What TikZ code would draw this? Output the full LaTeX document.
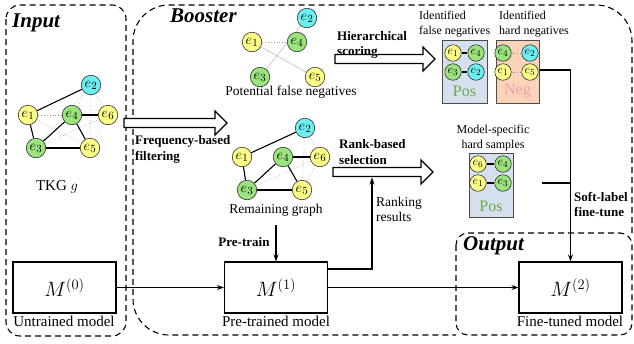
\documentclass[tikz,border=0pt]{standalone}
\usepackage{fontspec}
\setmainfont{Liberation Serif}
\usetikzlibrary{arrows.meta,calc,backgrounds}
\definecolor{ey}{HTML}{FFFF88}
\definecolor{eg}{HTML}{9BE37C}
\definecolor{ec}{HTML}{6AF0F0}
\definecolor{posfill}{HTML}{D6DFEE}
\definecolor{negfill}{HTML}{FBD3B8}
\definecolor{posgreen}{HTML}{6AAA4A}
\definecolor{negpink}{HTML}{F4A0B4}
\newcommand\hollowarrow[3]{%
  \draw[hollow] (#1,#3-4.5) -- (#2-12,#3-4.5) -- (#2-12,#3-12) -- (#2,#3) -- (#2-12,#3+12) -- (#2-12,#3+4.5) -- (#1,#3+4.5) -- cycle;}
\begin{document}
\begin{tikzpicture}[x=1pt,y=-1pt,
  ent/.style={circle,draw=black!80,line width=0.6pt,inner sep=0pt,minimum size=19.5pt,font=\fontsize{15}{15}\selectfont},
  sent/.style={ent,minimum size=16.5pt,font=\fontsize{13}{13}\selectfont},
  Y/.style={fill=ey}, G/.style={fill=eg}, C/.style={fill=ec},
  solidedge/.style={line width=1.1pt},
  thickedge/.style={line width=1.9pt},
  dotedge/.style={gray!45,dotted,line width=0.8pt},
  dkdotedge/.style={gray!80,dotted,line width=0.9pt},
  thinedge/.style={gray!50,line width=0.6pt},
  region/.style={dash pattern=on 6pt off 4pt,line width=1.1pt},
  title/.style={font=\fontsize{21}{21}\selectfont\bfseries\itshape,anchor=base west,inner sep=0pt},
  lbl/.style={font=\fontsize{13.5}{15}\selectfont,inner sep=0pt},
  blbl/.style={font=\fontsize{13}{15.5}\selectfont\bfseries,inner sep=0pt,align=left,anchor=west},
  slbl/.style={font=\fontsize{12}{15}\selectfont,inner sep=0pt,align=left,anchor=west},
  model/.style={draw,line width=1.1pt,minimum width=103pt,minimum height=51pt,inner sep=0pt,font=\fontsize{21}{21}\selectfont},
  mlbl/.style={font=\fontsize{15}{15}\selectfont,inner sep=0pt},
  conn/.style={line width=1.1pt,-{Stealth[length=7pt,width=5pt]}},
  thickconn/.style={line width=1.7pt},
  hollow/.style={draw,line width=1.2pt,fill=white,line join=miter},
  box/.style={draw=black!70,line width=1pt,inner sep=0pt},
  boxtxt/.style={font=\fontsize{16}{16}\selectfont,inner sep=0pt}
]
\useasboundingbox (0,0) rectangle (634,343);

% regions
\draw[region,rounded corners=14pt] (6,5) rectangle (126,336);
\draw[region,rounded corners=36pt] (632,233) -- (632,5) -- (133,5) -- (133,335) -- (456,335);
\draw[region,rounded corners=12pt] (456,233) rectangle (632,335);
\node[title] (tin) at (12,27) {Input};
\node[title] (tbo) at (170,22) {Booster};
\node[title] (tout) at (463,250) {Output};

% input graph
\node[ent,Y] (i1) at (28,115) {$e_1$};
\node[ent,C] (i2) at (91,85) {$e_2$};
\node[ent,G] (i3) at (36,148) {$e_3$};
\node[ent,G] (i4) at (72,115) {$e_4$};
\node[ent,Y] (i5) at (90,148) {$e_5$};
\node[ent,Y] (i6) at (108,115) {$e_6$};
\begin{pgfonlayer}{background}
\draw[dotedge] (i2)--(i4) (i2)--(i3) (i2)--(i5) (i2)--(i6) (i1)--(i5) (i3)--(i6) (i5)--(i6);
\draw[dkdotedge] (i1)--(i4);
\draw[solidedge] (i1)--(i2) (i1)--(i3) (i3)--(i4) (i4)--(i5);
\draw[thickedge] (i4)--(i6) (i3)--(i5);
\end{pgfonlayer}
\node[lbl,font=\fontsize{15}{15}\selectfont] (tkg) at (57,187) {TKG $g$};

% potential false negatives
\node[ent,Y] (p1) at (252,42) {$e_1$};
\node[ent,C] (p2) at (307,18) {$e_2$};
\node[ent,G] (p3) at (260,77) {$e_3$};
\node[ent,G] (p4) at (297,42) {$e_4$};
\node[ent,Y] (p5) at (315,77) {$e_5$};
\begin{pgfonlayer}{background}
\draw[dkdotedge] (p1)--(p4);
\draw[thinedge] (p2)--(p3) (p1)--(p5);
\end{pgfonlayer}
\node[lbl] (pfn) at (291,92) {Potential false negatives};

% remaining graph
\node[ent,Y] (r1) at (242,157) {$e_1$};
\node[ent,C] (r2) at (305,128) {$e_2$};
\node[ent,G] (r3) at (247,190) {$e_3$};
\node[ent,G] (r4) at (283,157) {$e_4$};
\node[ent,Y] (r5) at (302,190) {$e_5$};
\node[ent,Y] (r6) at (320,157) {$e_6$};
\begin{pgfonlayer}{background}
\draw[dotedge] (r2)--(r6) (r2)--(r5) (r3)--(r6) (r5)--(r6);
\draw[solidedge] (r1)--(r2) (r1)--(r3) (r3)--(r4) (r4)--(r5);
\draw[thickedge] (r4)--(r6) (r3)--(r5);
\end{pgfonlayer}
\node[lbl] (rg) at (276,210) {Remaining graph};

% hollow arrows
\hollowarrow{124}{227}{123}
\hollowarrow{335}{435}{59}
\hollowarrow{333}{433}{172}
\node[blbl] (ff) at (135,149.5) {Frequency-based\\filtering};
\node[blbl] (hs) at (337,45) {Hierarchical\\scoring};
\node[blbl] (rb) at (339,152) {Rank-based\\selection};

% identified boxes
\node[slbl] (ifn) at (419,24.5) {Identified\\false negatives};
\node[slbl] (ihn) at (499,24.5) {Identified\\hard negatives};
\node[box,fill=posfill,minimum width=45pt,minimum height=63pt] (pos1) at (464.5,71.5) {};
\node[box,fill=negfill,minimum width=43pt,minimum height=63pt] (neg) at (517.5,71.5) {};
\node[sent,Y] (q1) at (453,53) {$e_1$};
\node[sent,G] (q4) at (476,53) {$e_4$};
\node[sent,G] (q3) at (453,72) {$e_3$};
\node[sent,C] (q2) at (476,72) {$e_2$};
\draw[thickedge] (q1)--(q4) (q3)--(q2);
\node[boxtxt,text=posgreen] (post1) at (464.5,91) {Pos};
\node[sent,G] (n4) at (503,53) {$e_4$};
\node[sent,C] (n2) at (530,53) {$e_2$};
\node[sent,Y] (n1) at (503,72) {$e_1$};
\node[sent,Y] (n5) at (530,72) {$e_5$};
\draw[dkdotedge] (n4)--(n2) (n1)--(n5);
\node[boxtxt,text=negpink] (negt) at (517.5,91) {Neg};

% model-specific
\node[font=\fontsize{12}{15}\selectfont,inner sep=0pt,align=center] (mshs) at (493,138.5) {Model-specific\\hard samples};
\node[box,fill=posfill,minimum width=44pt,minimum height=64pt] (pos2) at (491,185) {};
\node[sent,Y] (m6) at (478,164) {$e_6$};
\node[sent,G] (m4) at (503,164) {$e_4$};
\node[sent,Y] (m1e) at (478,183) {$e_1$};
\node[sent,G] (m3) at (503,183) {$e_3$};
\draw[thickedge] (m6)--(m4) (m1e)--(m3);
\node[boxtxt,text=posgreen] (post2) at (491,206) {Pos};

% models
\node[model] (M0) at (64.5,287.5) {$M^{(0)}$};
\node[model] (M1) at (276,287.5) {$M^{(1)}$};
\node[model] (M2) at (570.5,287.5) {$M^{(2)}$};
\node[mlbl] (l0) at (64,321) {Untrained model};
\node[mlbl] (l1) at (276,321) {Pre-trained model};
\node[mlbl] (l2) at (570,321) {Fine-tuned model};

% connectors
\draw[conn] (M0) -- (M1);
\draw[conn] (M1) -- (M2);
\coordinate (ptstart) at (276,225);
\draw[conn] (ptstart) -- (M1.north);
\node[blbl,anchor=center] (pt) at (244,242) {Pre-train};
\coordinate (m1r) at (M1.east |- 0,269);
\coordinate (rbbot) at (372,177.5);
\draw[thickconn] (m1r) -| (372,230);
\draw[conn] (372,232) -- (rbbot);
\node[lbl,align=left,anchor=west] (rr) at (376,209.5) {Ranking\\results};
\draw[thickconn] (neg.east |- 0,70) -| (570.5,200);
\draw[conn,line width=1.4pt] (570.5,198) -- (M2.north);
\coordinate (msout) at (542,183);
\draw[thickconn] (msout) -- (570.5,183);
\node[blbl] (slft) at (574,204.5) {Soft-label\\fine-tune};
\end{tikzpicture}
\end{document}
